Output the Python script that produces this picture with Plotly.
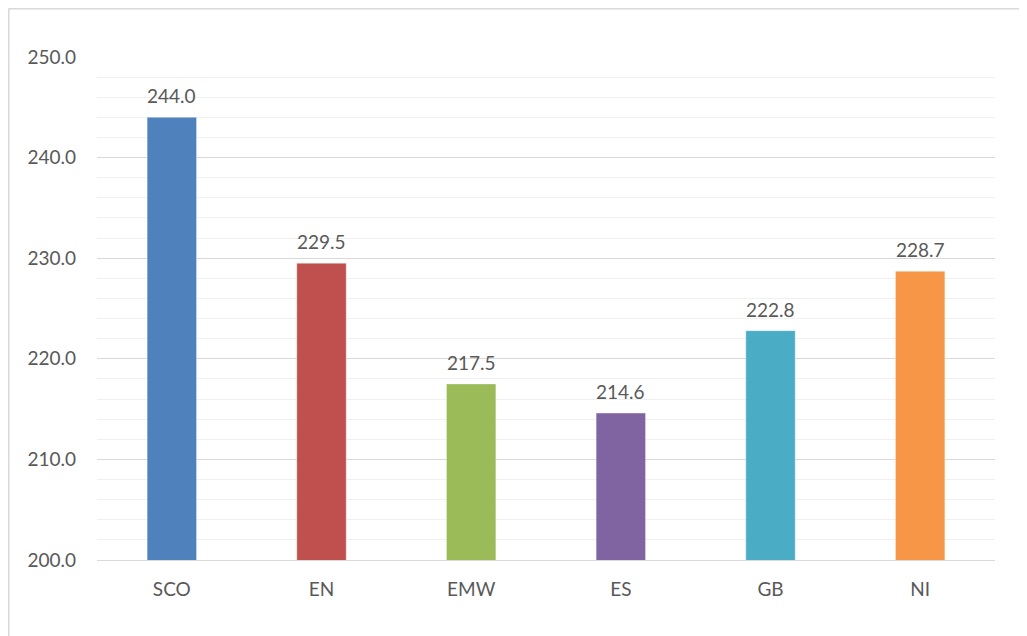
import plotly.graph_objects as go

# Chart data
regions = ["SCO", "EN", "EMW", "ES", "GB", "NI"]
values = [244.0, 229.5, 217.5, 214.6, 222.8, 228.7]
bar_colors = ["#4F81BD", "#C0504D", "#9BBB59", "#8064A2", "#4BACC6", "#F79646"]
y_ticks = [200, 210, 220, 230, 240, 250]

font_family = "Lato, 'Open Sans', sans-serif"
text_color = "#595959"

fig = go.Figure()
fig.add_trace(go.Bar(x=regions, y=values, marker_color=bar_colors,
                     marker_line=dict(color="rgba(255,255,255,0.35)", width=1),
                     width=0.33, showlegend=False))

# Data labels above the bars
for r, v in zip(regions, values):
    fig.add_annotation(x=r, y=v, text=f"{v:.1f}", showarrow=False,
                       yanchor="bottom", yshift=8,
                       font=dict(family=font_family, size=19, color=text_color))

# Outer chart border: only top and left edges are visible in the window
border = dict(color="#d9d9d9", width=2)
fig.add_shape(type="line", xref="paper", yref="paper",
              x0=-0.0985, x1=1.1, y0=1.0964, y1=1.0964, line=border)
fig.add_shape(type="line", xref="paper", yref="paper",
              x0=-0.0985, x1=-0.0985, y0=-0.2, y1=1.0964, line=border)

# page body adds an 8px offset, so the figure is sized to fit the window
fig.update_layout(
    width=1019, height=628,
    margin=dict(l=89, r=32, t=49, b=76),
    paper_bgcolor="white", plot_bgcolor="white",
    font=dict(family=font_family, size=19, color=text_color),
    bargap=0.67,
)
fig.update_yaxes(range=[200, 250], tickvals=y_ticks,
                 ticktext=[f"{t:.1f}" for t in y_ticks],
                 showgrid=True, gridcolor="#d9d9d9", gridwidth=1,
                 minor=dict(dtick=2, showgrid=True, gridcolor="#f0f0f0", gridwidth=1),
                 zeroline=False, showline=False, ticklabelstandoff=20)
fig.update_xaxes(showline=True, linecolor="#d9d9d9", linewidth=1,
                 showgrid=False, ticklabelstandoff=12)

fig.write_html("out.html")
